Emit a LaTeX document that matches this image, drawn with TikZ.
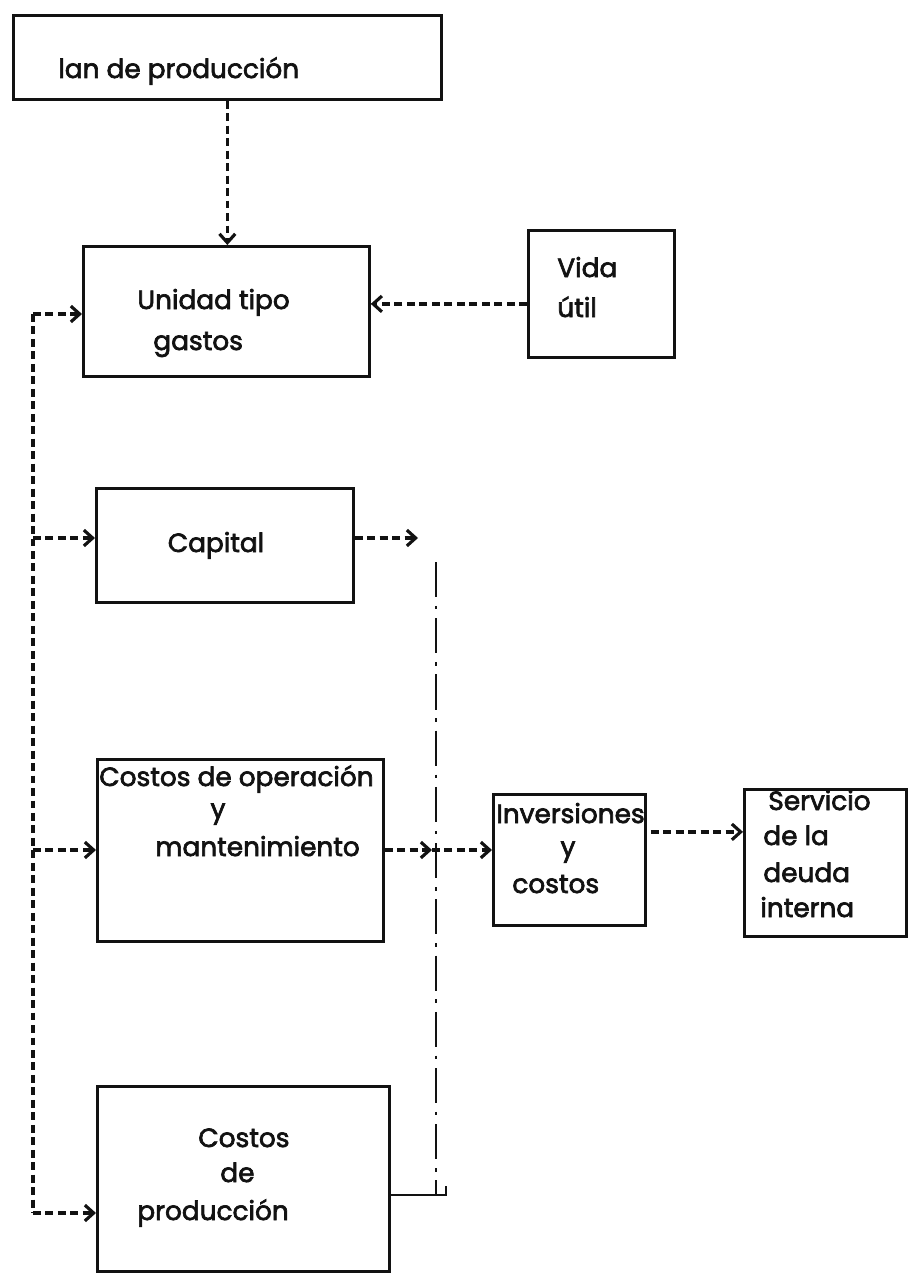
\documentclass[tikz,border=0pt]{standalone}
\usepackage{fontspec}
\setmainfont{Poppins}[FakeBold=2.5]
\usetikzlibrary{positioning, arrows.meta, calc}
\definecolor{ink}{RGB}{18,18,18}

\begin{document}
\begin{tikzpicture}[x=0.02cm, y=-0.02cm,
    caja/.style={draw=ink, line width=1.6pt, rectangle, anchor=north west, inner sep=0pt},
    txt/.style={font=\fontsize{15}{18}\selectfont, text=ink, inner sep=0pt, anchor=base west},
    flecha/.style={draw=ink, line width=2.1pt, dash pattern=on 4.5pt off 2.6pt,
                   -{Straight Barb[length=5pt, width=9pt, line width=1.8pt]}},
    bus/.style={draw=ink, line width=2.1pt, dash pattern=on 4.5pt off 2.6pt},
    riel/.style={draw=ink, line width=1.4pt, dash pattern=on 20pt off 5pt on 2pt off 5pt}
  ]
  \useasboundingbox (0,0) rectangle (914,1277);
  \fill[white] (0,0) rectangle (914,1277);

  \node[caja, minimum width=8.56cm, minimum height=1.68cm] (plan) at (12,14) {};
  \node[caja, minimum width=5.72cm, minimum height=2.6cm] (unidad) at (82,245) {};
  \node[caja, minimum width=2.92cm, minimum height=2.54cm] (vida) at (527,229) {};
  \node[caja, minimum width=5.14cm, minimum height=2.28cm] (capital) at (95,487) {};
  \node[caja, minimum width=5.72cm, minimum height=3.64cm] (costop) at (96,758) {};
  \node[caja, minimum width=3.04cm, minimum height=2.62cm] (inv) at (492,793) {};
  \node[caja, minimum width=3.24cm, minimum height=2.94cm] (serv) at (743,788) {};
  \node[caja, minimum width=5.84cm, minimum height=3.7cm] (costprod) at (96,1085) {};

  \node[txt] (plan-t) at (58,78) {lan de producción};
  \node[txt] (unidad-t1) at (137,309) {Unidad tipo};
  \node[txt] (unidad-t2) at (153,350) {gastos};
  \node[txt] (vida-t1) at (557,277) {Vida};
  \node[txt] (vida-t2) at (557,317) {útil};
  \node[txt, anchor=base] (capital-t) at (216,552) {Capital};
  \node[txt] (costop-t1) at (99,786) {Costos de operación};
  \node[txt, anchor=base] (costop-t2) at (218,818) {y};
  \node[txt] (costop-t3) at (155,856) {mantenimiento};
  \node[txt] (inv-t1) at (496,823) {Inversiones};
  \node[txt, anchor=base] (inv-t2) at (568,856) {y};
  \node[txt] (inv-t3) at (512,893) {costos};
  \node[txt] (serv-t1) at (768,810) {Servicio};
  \node[txt] (serv-t2) at (763,845) {de la};
  \node[txt] (serv-t3) at (763,882) {deuda};
  \node[txt] (serv-t4) at (760,917) {interna};
  \node[txt] (costprod-t1) at (198,1147) {Costos};
  \node[txt] (costprod-t2) at (220,1182) {de};
  \node[txt] (costprod-t3) at (137,1220) {producción};

  \draw[flecha] (plan.south) -- (plan.south |- unidad.north);
  \draw[flecha] ($(vida.west)+(0,10)$) -- ($(vida.west -| unidad.east)+(0,10)$);

  \coordinate (b1) at (33,314);
  \coordinate (b2) at (33,538);
  \coordinate (b3) at (33,850);
  \coordinate (b4) at (33,1213);
  \draw[bus] (b1) -- (b4);
  \foreach \n [count=\i] in {unidad, capital, costop, costprod}
    \draw[flecha] (b\i) -- (b\i -| \n.west);

  \coordinate (cap-end) at (418,538);
  \draw[flecha] (capital.east |- cap-end) -- (cap-end);

  \coordinate (rt) at (436,562);
  \coordinate (rb) at (436,1195);
  \coordinate (rr) at (446,1195);
  \draw[riel] (rt) -- (rb);
  \draw[draw=ink, line width=1.6pt] (costprod.east |- rb) -- (rr) -- ++(0,-9);

  \coordinate (mid) at (432,850);
  \draw[flecha] (costop.east |- mid) -- (mid);
  \draw[flecha] (mid) -- (mid -| inv.west);
  \draw[flecha] ($(inv.east)+(4,-28)$) -- ($(inv.east -| serv.west)+(0,-28)$);
\end{tikzpicture}
\end{document}
